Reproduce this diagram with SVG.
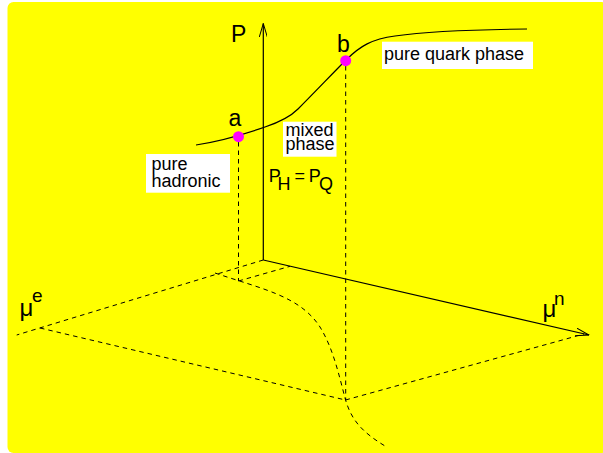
<svg xmlns="http://www.w3.org/2000/svg" width="603" height="453" viewBox="0 0 603 453">
<defs>
<style>
.t{font-family:"Liberation Sans",Arial,sans-serif;fill:#000}
.s{fill:none;stroke:#000;stroke-width:1.2}
.d{fill:none;stroke:#000;stroke-width:1;stroke-dasharray:4.5,4}
.box{fill:#fff}
.pt{fill:#ff00ff}
</style>
<marker id="arr" markerUnits="userSpaceOnUse" viewBox="0 0 14 8" refX="13.5" refY="4" markerWidth="14" markerHeight="8" orient="auto">
<path d="M0,0 L13.5,4 L0,8" fill="none" stroke="#000" stroke-width="1"/>
</marker>
</defs>
<rect x="7.5" y="2" width="600" height="451" rx="6" fill="#ffff00"/>
<g id="connectors">
<line class="s" x1="263.3" y1="260" x2="263.3" y2="23.5" marker-end="url(#arr)"/>
<line class="s" x1="263.3" y1="260" x2="589" y2="335" marker-end="url(#arr)"/>
<line class="d" x1="263.3" y1="260" x2="16.7" y2="335"/>
<line class="d" x1="40" y1="328" x2="345.5" y2="400"/>
<line class="d" x1="345.5" y1="400" x2="584" y2="334"/>
<line class="d" x1="238.5" y1="281" x2="290" y2="266.3"/>
<line class="d" x1="238.5" y1="142" x2="238.5" y2="281"/>
<line class="d" x1="345.7" y1="66" x2="345.7" y2="400"/>
<path class="d" d="M215,273 C262,289 300,296 320,327 C333,348 339,375 345,398 C351,420 362,432 385,446"/>
<path class="s" d="M196,145 C215,142 245,134 265,127 C280,122 290,117 298,109 C315,92 332,74 346,60 C360,46 372,39 395,36 C430,31 480,29.5 527,29"/>
</g>
<g id="axis-P"><text class="t" x="231" y="42" font-size="23">P</text></g>
<g id="axis-mue"><text class="t" x="19.5" y="316" font-size="24">μ</text><text class="t" x="32" y="301.5" font-size="19">e</text></g>
<g id="axis-mun"><text class="t" x="542.5" y="317" font-size="24">μ</text><text class="t" x="554" y="305" font-size="19">n</text></g>
<g id="point-a"><circle class="pt" cx="238.5" cy="136.7" r="5.5"/><text class="t" x="228.5" y="126" font-size="23">a</text></g>
<g id="point-b"><circle class="pt" cx="345.7" cy="60.7" r="5.5"/><text class="t" x="337" y="51.7" font-size="23">b</text></g>
<g id="pure-hadronic"><rect class="box" x="146" y="154" width="84" height="38.7"/><text class="t" font-size="18"><tspan x="151.5" y="170">pure</tspan><tspan x="151.5" y="187">hadronic</tspan></text></g>
<g id="mixed-phase"><rect class="box" x="283" y="121.7" width="53.5" height="35"/><text class="t" font-size="18"><tspan x="285.5" y="135.5">mixed</tspan><tspan x="285.5" y="150">phase</tspan></text></g>
<g id="pure-quark"><rect class="box" x="382" y="41.7" width="151" height="27.3"/><text class="t" x="384" y="60" font-size="18">pure quark phase</text></g>
<g id="equality"><text class="t" font-size="18"><tspan x="268.8" y="181.7">P</tspan><tspan x="277.6" y="190">H</tspan><tspan x="294.5" y="181.7">=</tspan><tspan x="308.8" y="181.7">P</tspan><tspan x="319" y="190">Q</tspan></text></g>
</svg>
